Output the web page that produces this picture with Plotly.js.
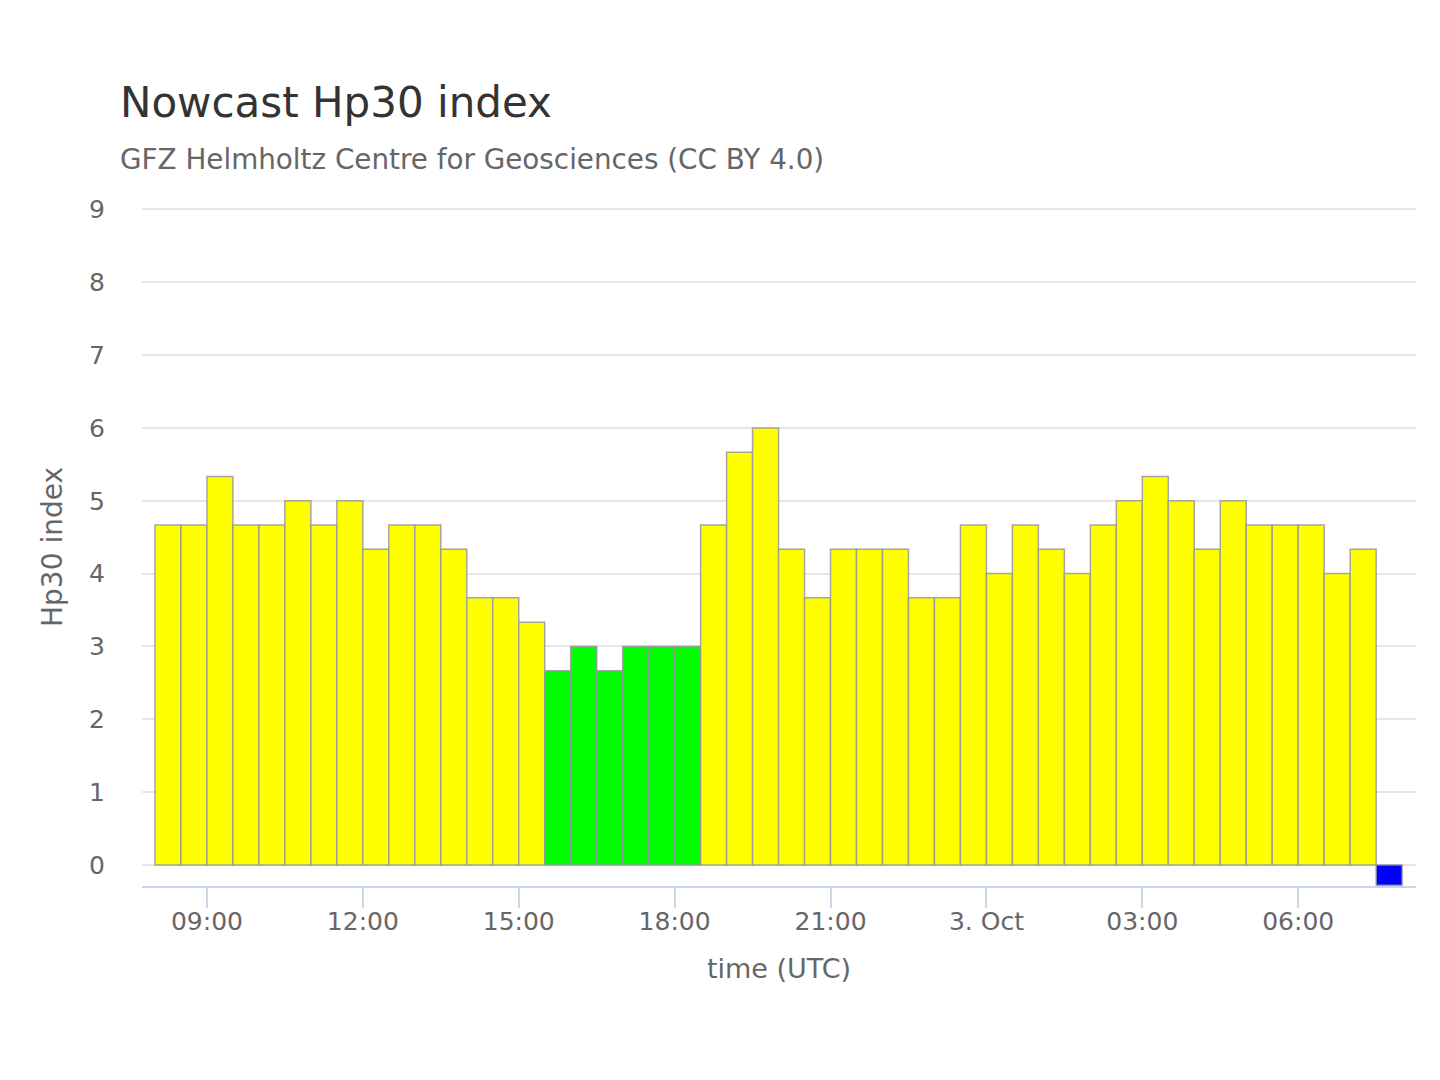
<!DOCTYPE html>
<html>
<head>
<meta charset="utf-8">
<script src="https://cdn.plot.ly/plotly-3.0.1.min.js"></script>
<style>
html,body{margin:0;padding:0;background:#fff;}
#chart{width:1440px;height:1080px;}
</style>
</head>
<body>
<div id="chart"></div>
<script>
// Data: Hp30 index, 30-minute intervals starting 2024-10-02 08:00 UTC
const startTime = '2024-10-02T08:00:00Z';
const hp30Values = [
  4.667, 4.667, 5.333, 4.667, 4.667, 5.0, 4.667, 5.0, 4.333, 4.667, 4.667, 4.333,
  3.667, 3.667, 3.333, 2.667, 3.0, 2.667, 3.0, 3.0, 3.0, 4.667, 5.667, 6.0,
  4.333, 3.667, 4.333, 4.333, 4.333, 3.667, 3.667, 4.667, 4.0, 4.667, 4.333, 4.0,
  4.667, 5.0, 5.333, 5.0, 4.333, 5.0, 4.667, 4.667, 4.667, 4.0, 4.333, -0.28
];
const tickVals = ['2024-10-02 09:00','2024-10-02 12:00','2024-10-02 15:00','2024-10-02 18:00',
                  '2024-10-02 21:00','2024-10-03 00:00','2024-10-03 03:00','2024-10-03 06:00'];
const tickLabels = ['09:00','12:00','15:00','18:00','21:00','3. Oct','03:00','06:00'];
const yTicks = [0,1,2,3,4,5,6,7,8,9];

function pad(n){return (n<10?'0':'')+n;}
const t0 = Date.parse(startTime);
const times = hp30Values.map((v,i)=>{
  const d = new Date(t0 + (i*30+15)*60000);
  return d.getUTCFullYear()+'-'+pad(d.getUTCMonth()+1)+'-'+pad(d.getUTCDate())+' '+pad(d.getUTCHours())+':'+pad(d.getUTCMinutes());
});
const colors = hp30Values.map(v => v < 0 ? '#0000ff' : (v <= 3 ? '#00ff00' : '#ffff00'));

const font = '"DejaVu Sans", Verdana, sans-serif';

const trace = {
  type:'bar', x:times, y:hp30Values,
  width: hp30Values.map(v => 30*60000),
  marker:{color:colors, line:{color:'rgba(150,150,160,0.85)', width:1.5}},
  hoverinfo:'x+y'
};

const layout = {
  width:1440, height:1080,
  paper_bgcolor:'#fff', plot_bgcolor:'#fff',
  margin:{l:142, r:24, t:208, b:194},
  bargap:0,
  showlegend:false,
  font:{family:font, color:'#666'},
  title:{text:'Nowcast Hp30 index', font:{family:font, size:42, color:'#333'},
         xref:'container', yref:'container', x:120/1440, xanchor:'left', y:1-102/1080, yanchor:'middle'},
  annotations:[{text:'GFZ Helmholtz Centre for Geosciences (CC BY 4.0)', xref:'paper', yref:'paper',
    x:(118-142)/1274, y:1+(208-160)/678, xanchor:'left', yanchor:'middle', showarrow:false,
    font:{family:font, size:27.8, color:'#666'}}],
  xaxis:{
    type:'date',
    range:['2024-10-02 07:45','2024-10-03 08:16'],
    tickvals:tickVals, ticktext:tickLabels,
    ticks:'outside', ticklen:20, tickwidth:2, tickcolor:'#ccd6eb',
    showline:true, linecolor:'#ccd6eb', linewidth:2,
    showgrid:false, zeroline:false,
    ticklabelstandoff:-8,
    tickfont:{family:font, size:25, color:'#666'},
    title:{text:'time (UTC)', font:{family:font, size:27, color:'#666'}, standoff:24}
  },
  yaxis:{
    range:[-0.29, 9.02],
    tickvals:yTicks,
    showgrid:true, gridcolor:'#e6e6e6', gridwidth:2,
    zeroline:false, showline:false,
    ticks:'', ticklabelstandoff:36,
    tickfont:{family:font, size:25, color:'#666'},
    title:{text:'Hp30 index', font:{family:font, size:28, color:'#666'}, standoff:18}
  }
};

Plotly.newPlot('chart', [trace], layout, {displayModeBar:false, staticPlot:true});
</script>
</body>
</html>
